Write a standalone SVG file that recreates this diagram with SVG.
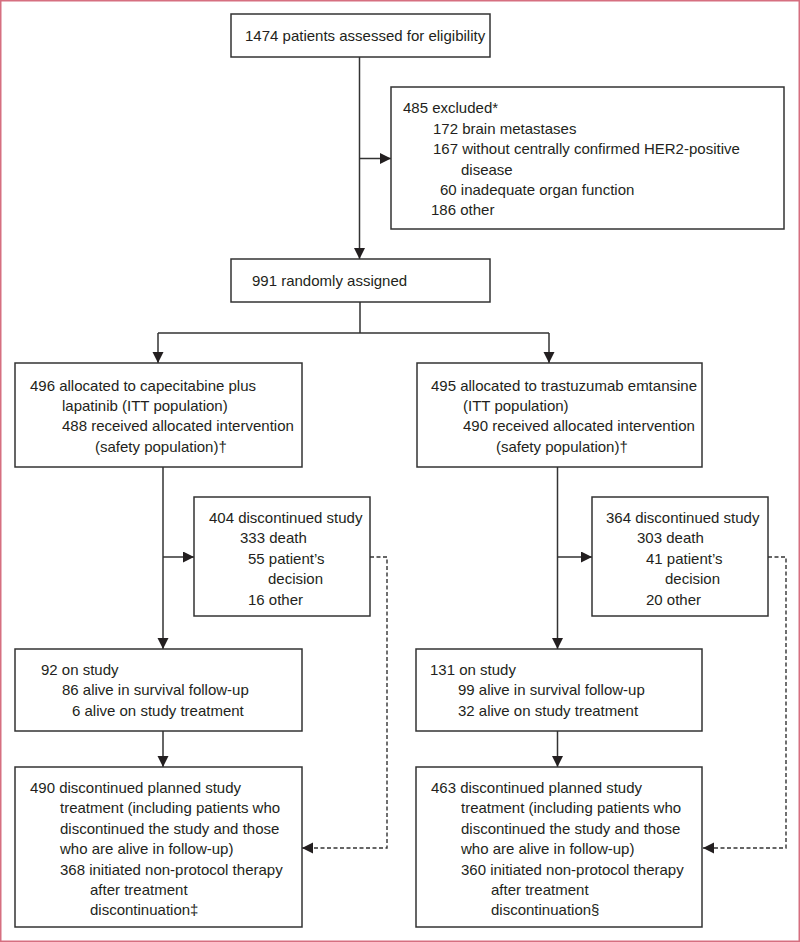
<svg xmlns="http://www.w3.org/2000/svg" width="800" height="942" viewBox="0 0 800 942">
<style>
.box{fill:#fff;stroke:#333;stroke-width:1.5}
text{font-family:"Liberation Sans",Arial,sans-serif;font-size:15px;fill:#231f20}
.ln{fill:none;stroke:#333;stroke-width:1.5}
.dash{fill:none;stroke:#333;stroke-width:1.4;stroke-dasharray:4 2.5}
</style>
<defs>
<marker id="ah" markerUnits="userSpaceOnUse" markerWidth="12" markerHeight="12" refX="11" refY="5.5" orient="auto">
<path d="M0,0 L11,5.5 L0,11 z" fill="#231f20"/>
</marker>
</defs>
<rect x="0.75" y="0.75" width="798.5" height="940.5" fill="#fff" stroke="#d66f80" stroke-width="1.5"/>
<g id="connectors">
<path class="ln" d="M359.5,57 V259" marker-end="url(#ah)"/>
<path class="ln" d="M359.5,158.5 H391" marker-end="url(#ah)"/>
<path class="ln" d="M360,302 V333 M158,333 H549"/>
<path class="ln" d="M158,333 V363" marker-end="url(#ah)"/>
<path class="ln" d="M549,333 V363" marker-end="url(#ah)"/>
<path class="ln" d="M163,467 V649" marker-end="url(#ah)"/>
<path class="ln" d="M163,557 H194" marker-end="url(#ah)"/>
<path class="ln" d="M163,731 V767" marker-end="url(#ah)"/>
<path class="ln" d="M557.5,467 V649" marker-end="url(#ah)"/>
<path class="ln" d="M557.5,557 H592" marker-end="url(#ah)"/>
<path class="ln" d="M557.5,731 V767" marker-end="url(#ah)"/>
<path class="dash" d="M370,557 H387 V848 H302" marker-end="url(#ah)"/>
<path class="dash" d="M768,557 H786 V848 H703" marker-end="url(#ah)"/>
</g>
<g id="assessed">
<rect class="box" x="231" y="14" width="259" height="43"/>
<text x="245" y="41">1474 patients assessed for eligibility</text>
</g>
<g id="excluded">
<rect class="box" x="391" y="87" width="393" height="142"/>
<text x="403" y="113">485 excluded*</text>
<text x="433" y="133.5">172 brain metastases</text>
<text x="433" y="154">167 without centrally confirmed HER2-positive</text>
<text x="461" y="174.5">disease</text>
<text x="440" y="195">60 inadequate organ function</text>
<text x="431" y="215">186 other</text>
</g>
<g id="randomised">
<rect class="box" x="231" y="259" width="259" height="43"/>
<text x="252" y="286">991 randomly assigned</text>
</g>
<g id="armA">
<rect class="box" x="15" y="363" width="287" height="104"/>
<text x="30" y="390.5">496 allocated to capecitabine plus</text>
<text x="62" y="410.9">lapatinib (ITT population)</text>
<text x="62" y="431.3">488 received allocated intervention</text>
<text x="95" y="451.7">(safety population)†</text>
</g>
<g id="armB">
<rect class="box" x="417" y="363" width="285" height="104"/>
<text x="431" y="390.5">495 allocated to trastuzumab emtansine</text>
<text x="463" y="410.9">(ITT population)</text>
<text x="463" y="431.3">490 received allocated intervention</text>
<text x="496" y="451.7">(safety population)†</text>
</g>
<g id="discA">
<rect class="box" x="194" y="497" width="176" height="119"/>
<text x="209" y="523">404 discontinued study</text>
<text x="240" y="543.4">333 death</text>
<text x="248" y="563.8">55 patient’s</text>
<text x="268" y="584.2">decision</text>
<text x="248" y="604.6">16 other</text>
</g>
<g id="discB">
<rect class="box" x="592" y="497" width="176" height="119"/>
<text x="606" y="523">364 discontinued study</text>
<text x="637" y="543.4">303 death</text>
<text x="646" y="563.8">41 patient’s</text>
<text x="665" y="584.2">decision</text>
<text x="646" y="604.6">20 other</text>
</g>
<g id="onA">
<rect class="box" x="15" y="649" width="287" height="82"/>
<text x="41" y="675">92 on study</text>
<text x="62" y="695.4">86 alive in survival follow-up</text>
<text x="72" y="715.8">6 alive on study treatment</text>
</g>
<g id="onB">
<rect class="box" x="416" y="649" width="286" height="82"/>
<text x="430" y="675">131 on study</text>
<text x="458" y="695.4">99 alive in survival follow-up</text>
<text x="458" y="715.8">32 alive on study treatment</text>
</g>
<g id="endA">
<rect class="box" x="15" y="767" width="287" height="160"/>
<text x="30" y="793">490 discontinued planned study</text>
<text x="60" y="813.4">treatment (including patients who</text>
<text x="60" y="833.8">discontinued the study and those</text>
<text x="60" y="854.2">who are alive in follow-up)</text>
<text x="60" y="874.6">368 initiated non-protocol therapy</text>
<text x="90" y="895">after treatment</text>
<text x="90" y="915.4">discontinuation‡</text>
</g>
<g id="endB">
<rect class="box" x="416" y="767" width="286" height="160"/>
<text x="431" y="793">463 discontinued planned study</text>
<text x="461" y="813.4">treatment (including patients who</text>
<text x="461" y="833.8">discontinued the study and those</text>
<text x="461" y="854.2">who are alive in follow-up)</text>
<text x="461" y="874.6">360 initiated non-protocol therapy</text>
<text x="491" y="895">after treatment</text>
<text x="491" y="915.4">discontinuation§</text>
</g>
</svg>
